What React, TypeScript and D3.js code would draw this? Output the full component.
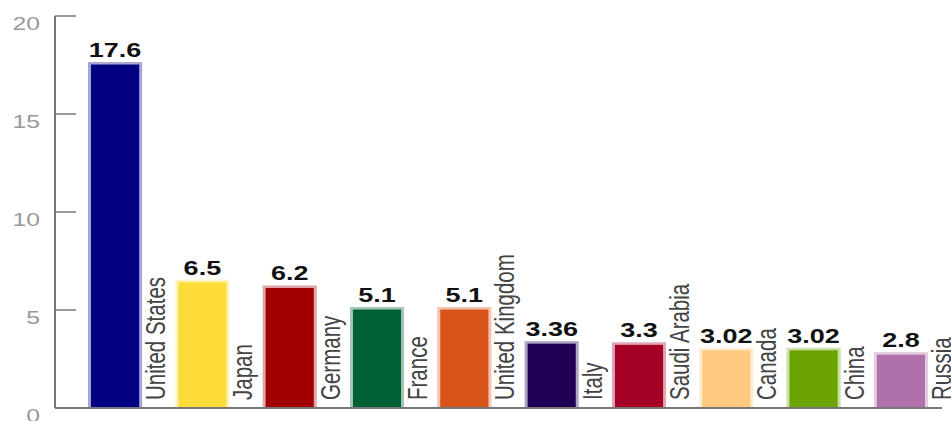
import React from "react";
import * as d3 from "d3";

const categories = ["United States", "Japan", "Germany", "France", "United Kingdom", "Italy", "Saudi Arabia", "Canada", "China", "Russia"];
const values = [17.6, 6.5, 6.2, 5.1, 5.1, 3.36, 3.3, 3.02, 3.02, 2.8];
const valueLabels = ["17.6", "6.5", "6.2", "5.1", "5.1", "3.36", "3.3", "3.02", "3.02", "2.8"];
const colors = ["#000080", "#fddc3a", "#a00000", "#006035", "#d9541a", "#1f0055", "#a50026", "#ffc980", "#6ba300", "#b070aa"];
const yTicks = [0, 5, 10, 15, 20];

const W = 951;
const H = 421;
const SX = 1.35;
const FONT = "'Liberation Sans', Arial, sans-serif";

export default function App() {
  const x = d3.scaleBand<string>().domain(categories).range([88, 928]).paddingInner(0.38).paddingOuter(0);
  const y = d3.scaleLinear().domain([0, 20]).range([408, 16]);
  const axisX = 55;
  const light = (c: string) => d3.interpolateRgb(c, "#ffffff")(0.65);

  return (
    <svg width={W} height={H} style={{ position: "absolute", left: 0, top: 0, background: "#fff" }} fontFamily={FONT}>
      {/* bars */}
      {categories.map((c, i) => {
        const x0 = x(c)!;
        const bw = x.bandwidth();
        const yt = y(values[i]);
        const y0 = y(0);
        return (
          <g key={c}>
            <rect x={x0} y={yt - 1} width={bw} height={y0 - yt + 1} fill={light(colors[i])} />
            <rect x={x0 + 3} y={yt + 1.5} width={bw - 6} height={y0 - yt - 1.5} fill={colors[i]} />
            <text
              transform={`translate(${x0 + bw / 2},${yt - 6}) scale(${SX},1)`}
              textAnchor="middle"
              fontSize={20}
              fontWeight="bold"
              fill="#111"
            >
              {valueLabels[i]}
            </text>
            <text
              transform={`translate(${x0 + bw + 23},400) scale(${SX},1) rotate(-90)`}
              textAnchor="start"
              fontSize={20.5}
              fill="#444"
            >
              {c}
            </text>
          </g>
        );
      })}
      {/* y axis */}
      <line x1={axisX} x2={axisX} y1={y(20)} y2={y(0)} stroke="#777" strokeWidth={2} />
      <line x1={axisX} x2={942} y1={y(0)} y2={y(0)} stroke="#777" strokeWidth={2} />
      {yTicks.map((t) => (
        <g key={t}>
          <line x1={axisX} x2={76} y1={y(t)} y2={y(t)} stroke="#777" strokeWidth={1.5} />
          <text
            transform={`translate(40,${y(t) + 14}) scale(1.3,1)`}
            textAnchor="end"
            fontSize={19}
            fill="#999"
          >
            {t}
          </text>
        </g>
      ))}
    </svg>
  );
}
